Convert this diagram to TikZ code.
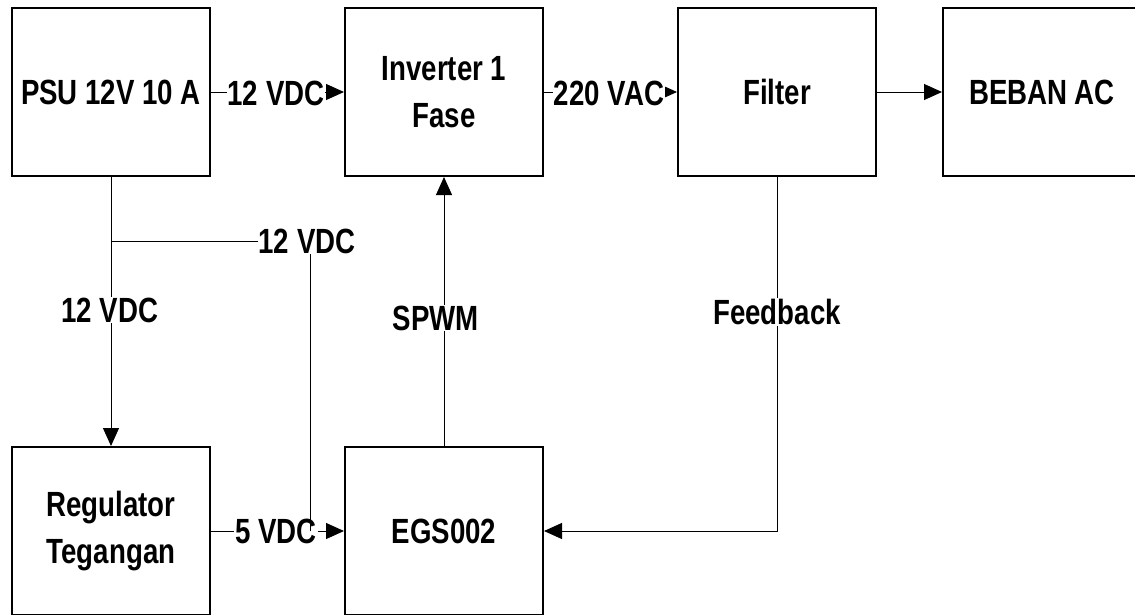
\documentclass[tikz,border=0pt]{standalone}
\usepackage{fontspec}
\setmainfont{Liberation Sans}[FakeStretch=0.79]
\usetikzlibrary{arrows.meta}
\newcommand\bigfont{\fontsize{35}{47}\selectfont\bfseries}
\begin{document}
\begin{tikzpicture}[x=1pt,y=-1pt,
  blk/.style={draw, line width=2pt, minimum width=198pt, minimum height=168pt, inner sep=0pt, font=\bigfont, align=center},
  lbl/.style={fill=white, inner sep=1pt, font=\bigfont},
  wire/.style={line width=1pt},
  conn/.style={wire, -{Triangle[length=18pt,width=16pt]}}]
\useasboundingbox (0,0) rectangle (1135,614);
% blocks
\node[blk] (psu) at (111,92) {PSU 12V 10 A};
\node[blk] (inv) at (444,92) {Inverter 1\\Fase};
\node[blk] (filt) at (777,92) {Filter};
\node[blk] (beban) at (1042,92) {BEBAN AC};
\node[blk] (reg) at (111,531) {Regulator\\Tegangan};
\node[blk] (egs) at (444,531) {EGS002};
% top row connectors
\draw[conn] (psu) -- (inv);
\node[lbl] (l1) at (276,93) {12 VDC};
\draw[conn] (inv) -- (filt);
\node[lbl] (l2) at (609,93) {220 VAC};
\draw[conn] (filt) -- (beban);
% PSU to regulator
\draw[conn] (psu) -- (reg);
\node[lbl] (l3) at (110,310) {12 VDC};
% regulator to EGS
\draw[conn] (reg) -- (egs);
\node[lbl] (l4) at (276,531) {5 VDC};
% branch 12 VDC to EGS supply line
\coordinate (j) at (111,241);
\coordinate (k) at (310,241);
\coordinate (m) at (310,531);
\draw[wire] (j) -- (k) -- (m);
\node[lbl] (l5) at (307,241) {12 VDC};
% SPWM
\draw[conn] (egs) -- (inv);
\node[lbl] (l6) at (436,318) {SPWM};
% Feedback
\draw[conn] (filt.south) |- (egs.east);
\node[lbl] (l7) at (777,312) {Feedback};
\end{tikzpicture}
\end{document}
